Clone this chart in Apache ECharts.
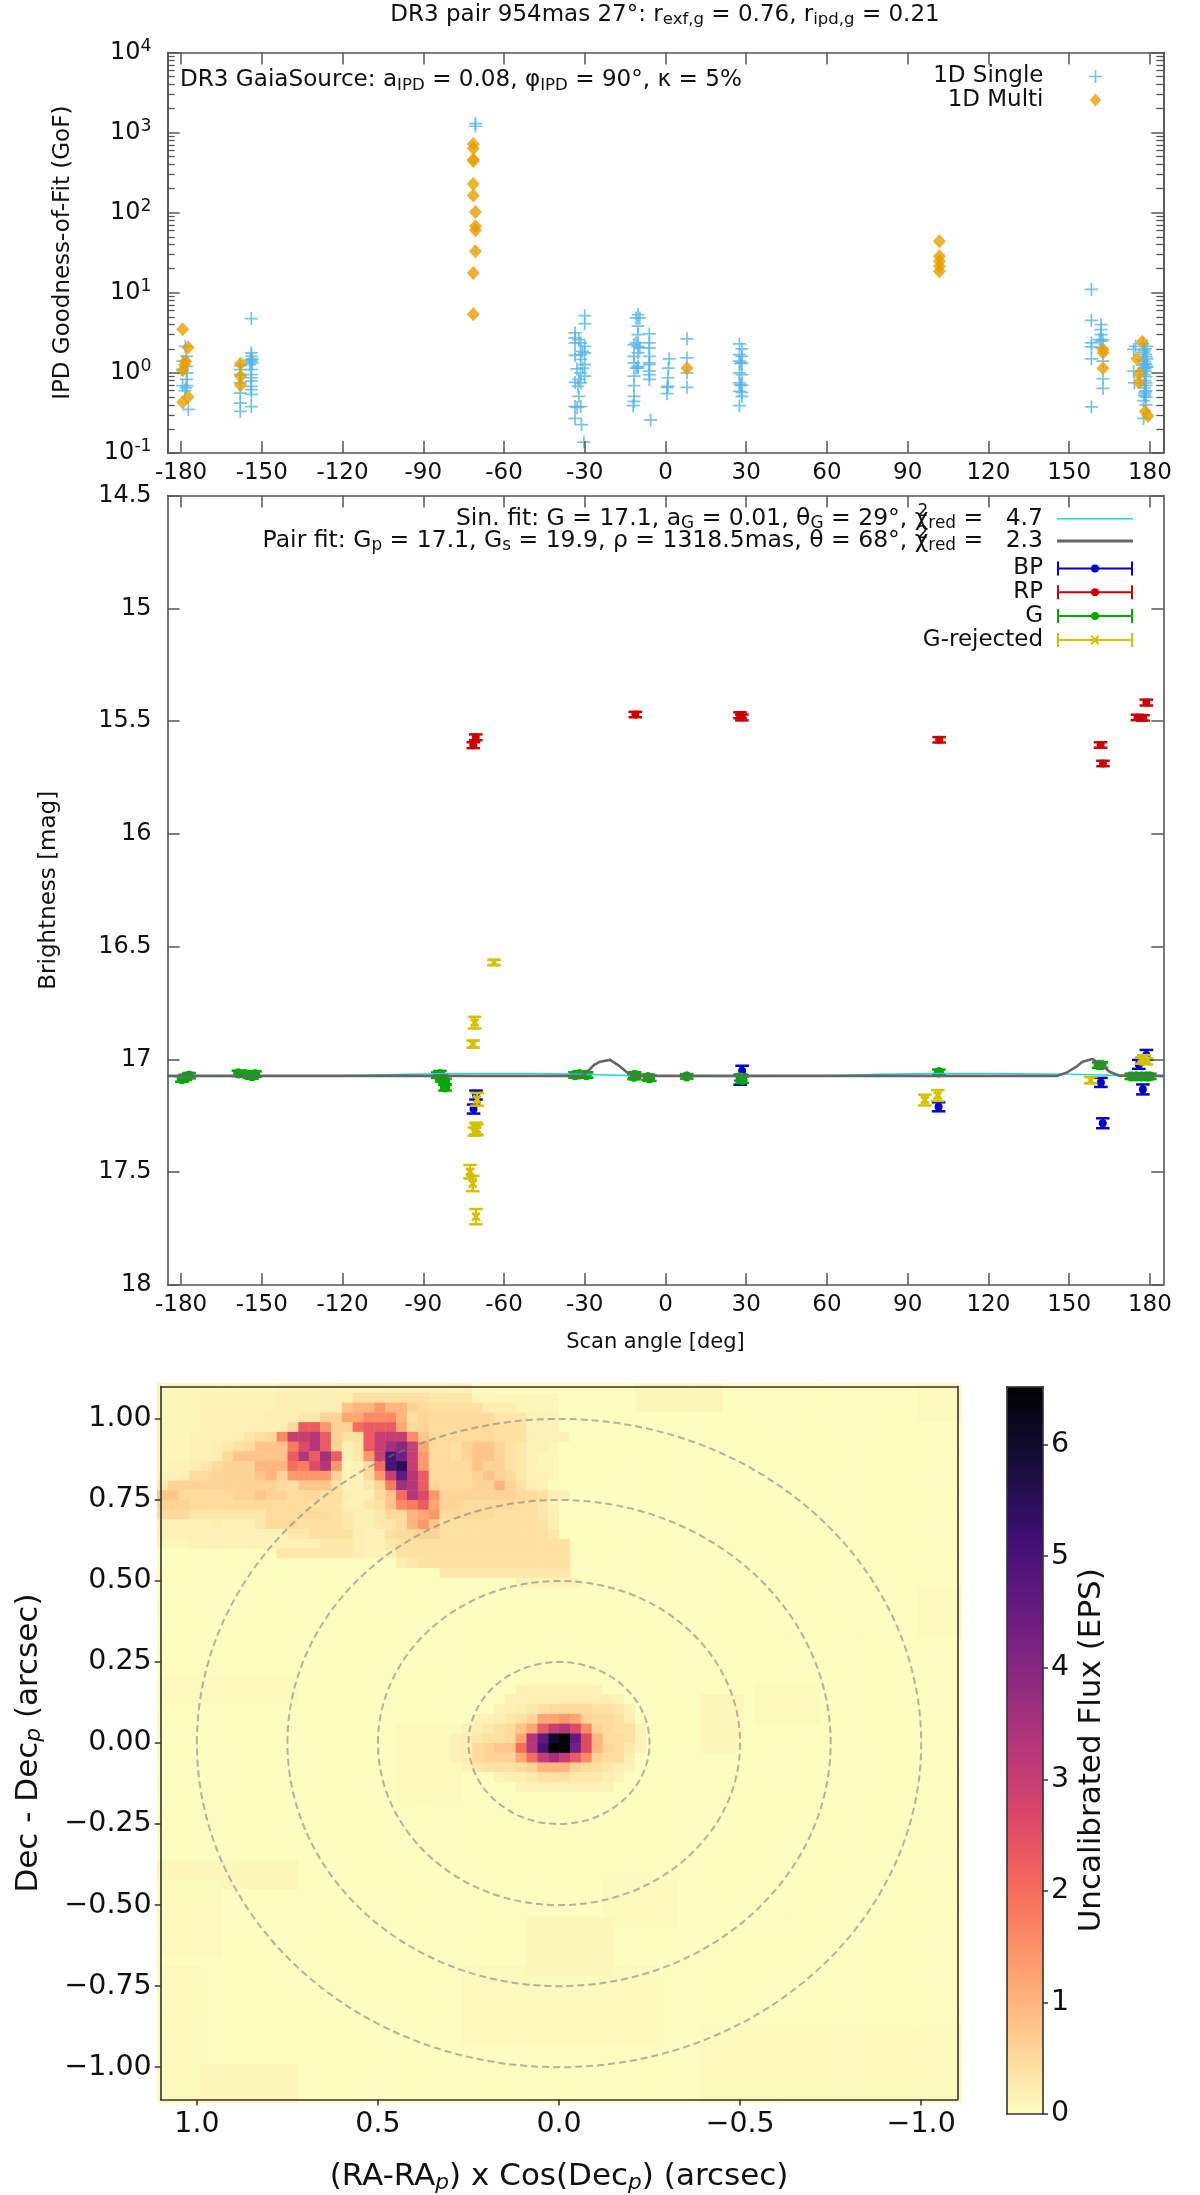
<!DOCTYPE html>
<html>
<head>
<meta charset="utf-8">
<title>DR3 pair</title>
<style>
  html, body { margin: 0; padding: 0; background: #fff; }
  #chart { width: 1200px; height: 2195px; }
</style>
<script src="https://cdn.jsdelivr.net/npm/echarts@6/dist/echarts.min.js"></script>
</head>
<body>
<div id="chart"></div>
<script>
// ---- top panel: IPD goodness of fit, [scan angle, GoF] ----
let singlePoints = [
  [-178.4, 2.15], [-178, 1.61], [-179.3, 1.4], [-179.5, 1.1], [-177.8, 1.0], [-177.8, 0.695], [-178.2, 0.65], [-179.4, 0.695],
  [-178.6, 0.6], [-177.3, 0.35], [-178, 1.21], [-178, 0.83],
  [-158, 1.23], [-158, 1.1], [-158, 0.95], [-158, 0.75], [-158, 0.56], [-158, 0.42], [-158, 0.33],
  [-153.9, 4.77], [-153.9, 1.78], [-153.9, 1.61], [-153.5, 1.5], [-154.2, 1.45], [-153.9, 1.4], [-153.5, 1.33], [-154.5, 1.27],
  [-153.9, 1.1], [-153.9, 0.95], [-153.9, 0.87], [-153.9, 0.79], [-153.9, 0.68], [-153.9, 0.62], [-153.9, 0.54], [-153.9, 0.38],
  [-70.6, 1297], [-70.6, 1200],
  [-30, 5.2], [-30, 4.13], [-33.6, 3.16], [-33.6, 2.73], [-32.2, 2.6], [-31.5, 2.37], [-33.6, 2.37], [-30, 2.15], [-30.8, 1.86],
  [-30, 1.78], [-31.5, 1.69], [-33.6, 1.65], [-31.5, 1.47], [-30, 1.27], [-32.9, 1.12], [-30.8, 1.15], [-31.5, 1.0], [-30, 0.91],
  [-32.2, 0.83], [-33.6, 0.76], [-31.5, 0.75], [-32.5, 0.68], [-32.2, 0.51], [-33.6, 0.38], [-31.5, 0.38], [-32.8, 0.37], [-33.6, 0.27],
  [-31.2, 0.226], [-30.3, 0.137],
  [-10.2, 5.35], [-10.9, 4.86], [-9.5, 4.86], [-10.2, 3.83], [-10.2, 3.01], [-10.9, 2.37], [-10.2, 2.15], [-11.7, 2.26], [-9.5, 2.05],
  [-11.7, 1.61], [-10.2, 1.78], [-11.7, 1.33], [-10.2, 1.21], [-10.9, 1.15], [-11.7, 0.91], [-10.2, 1.15], [-11.7, 0.695],
  [-11.7, 0.51], [-11.7, 0.44], [-12, 0.39],
  [-6, 3.07], [-6, 2.37], [-6, 2.05], [-6, 1.61], [-6, 1.33], [-6, 1.27], [-6, 1.05], [-6, 0.95], [-6, 0.83], [-5.5, 0.257],
  [1.4, 1.5], [1.1, 1.15], [0.9, 0.87], [0.9, 0.68], [0.6, 0.66], [0.6, 0.55],
  [8, 2.66], [8, 1.54], [8, 1.0], [8, 0.66],
  [27.5, 2.3], [28.4, 1.99], [27.5, 1.69], [28.4, 1.61], [27.5, 1.4], [28.4, 1.33], [27.9, 1.31], [27.5, 1.0], [28.4, 0.95],
  [27.5, 0.75], [28.4, 0.7], [27.8, 0.71], [27.5, 0.59], [28.4, 0.57], [28.4, 0.51], [27.5, 0.39],
  [158.3, 11], [158.3, 4.54], [158.3, 2.37], [158.3, 2.11], [158.3, 1.5], [158.3, 0.376],
  [161.9, 4.01], [161.9, 3.47], [161.9, 3.01], [161.2, 2.6], [162.6, 2.6], [161.9, 2.5], [161.9, 2.05], [162.6, 1.4], [162.6, 0.85], [162.6, 0.64],
  [174, 1.96], [174.7, 2.15], [174, 1.05], [174.3, 0.75], [177.4, 2.3], [178.3, 2.0], [177.7, 1.8], [178.6, 1.6], [177.4, 1.45],
  [178.1, 1.3], [178.6, 1.2], [177.7, 1.15], [178.3, 1.05], [178.6, 0.9], [178.1, 0.8], [178.6, 0.7], [177.9, 0.65], [178.6, 0.6],
  [178.1, 0.55], [178.6, 0.5], [177.7, 0.45], [178.6, 0.4], [177.7, 0.27],
  [178.9, 2.15], [177.9, 1.9], [178.4, 1.7], [179, 1.5], [178, 1.38], [178.6, 1.28], [177.4, 1.24], [178.2, 1.12], [179, 1.18], [177.9, 0.95], [178.6, 0.75], [178.3, 0.58], [178, 0.52]
];
let multiPoints = [
  [-179.4, 3.51], [-177.4, 2.07], [-178.3, 1.4], [-178.7, 1.26], [-179.4, 1.08], [-177.4, 0.5], [-179.4, 0.43],
  [-157.9, 1.3], [-157.9, 0.91], [-157.9, 0.7],
  [-71.4, 723], [-71.4, 632], [-71.4, 460], [-71.4, 443], [-71.4, 229], [-71.4, 164], [-70.6, 102], [-70.6, 67.8], [-70.6, 60.4],
  [-70.6, 33], [-71.4, 17.7], [-71.4, 5.4],
  [8, 1.14],
  [101.8, 44], [101.8, 28.6], [101.8, 24.8], [101.8, 21.5], [101.8, 18.6],
  [162.6, 1.96], [162.6, 1.78], [162.6, 1.14],
  [177.2, 2.44], [175.2, 1.5], [176, 0.98], [176, 0.76], [178.3, 0.33], [179.3, 0.29]
];
let angleTicks = [-180, -150, -120, -90, -60, -30, 0, 30, 60, 90, 120, 150, 180];
// minor ticks of the log axis, drawn on a helper axis counted in decades
let gofMinorTicks = [];
[-1, 0, 1, 2, 3].forEach(function (d) {
  [2, 3, 4, 5, 6, 7, 8, 9].forEach(function (m) { gofMinorTicks.push(d + Math.log10(m)); });
});

// ---- middle panel: [scan angle, magnitude, error] ----
let bpPoints = [
  [-70.4, 17.158, 0.02], [-71.3, 17.22, 0.02], [28.5, 17.05, 0.022], [27.8, 17.09, 0.022], [101.5, 17.21, 0.02],
  [161.8, 17.102, 0.02], [162.5, 17.283, 0.022], [178.7, 16.98, 0.022], [175.9, 17.022, 0.02], [177.4, 17.133, 0.022]
];
let rpPoints = [
  [-70.5, 15.572, 0.013], [-71.4, 15.607, 0.013], [-11.2, 15.471, 0.012], [27.7, 15.474, 0.013], [28.4, 15.484, 0.013],
  [101.7, 15.583, 0.012], [161.7, 15.606, 0.012], [162.6, 15.688, 0.012], [178.7, 15.418, 0.013], [175.4, 15.484, 0.012], [177.5, 15.486, 0.012]
];
let gPoints = [
  [-179.7, 17.087, 0.012], [-178.5, 17.08, 0.012], [-177, 17.072, 0.012],
  [-158.7, 17.062, 0.012], [-156.2, 17.065, 0.012], [-153.7, 17.074, 0.012], [-152.5, 17.065, 0.012],
  [-84.6, 17.07, 0.012], [-83.8, 17.065, 0.014], [-83.2, 17.084, 0.014], [-81.9, 17.099, 0.014], [-81.9, 17.124, 0.014],
  [-33.6, 17.069, 0.012], [-32, 17.066, 0.012], [-29.3, 17.069, 0.012],
  [-11.4, 17.069, 0.012], [-11.7, 17.076, 0.012], [-6.5, 17.079, 0.012], [-5.8, 17.083, 0.012],
  [7.9, 17.075, 0.01], [28, 17.08, 0.014], [28.5, 17.09, 0.014], [101.6, 17.057, 0.012],
  [161, 17.025, 0.012], [162, 17.025, 0.012],
  [173.1, 17.075, 0.012], [175, 17.075, 0.012], [176.9, 17.075, 0.012], [178.7, 17.075, 0.012], [180, 17.075, 0.012]
];
let rejectedPoints = [
  [-63.7, 16.57, 0.012], [-70.9, 16.837, 0.026], [-71.5, 16.932, 0.016], [-70, 17.177, 0.028],
  [-70.4, 17.306, 0.026], [-71, 17.32, 0.018], [-70.1, 17.312, 0.024], [-72.6, 17.498, 0.03], [-71.6, 17.55, 0.034], [-70.4, 17.697, 0.034],
  [96.4, 17.18, 0.024], [101.2, 17.16, 0.024], [158, 17.092, 0.014], [176.9, 17.005, 0.014], [178.7, 17.008, 0.014], [177.8, 16.995, 0.014]
];
let sinFit = [
  [-185, 17.076], [-150, 17.075], [-120, 17.072], [-100, 17.067], [-85, 17.063], [-70, 17.062], [-50, 17.062], [-30, 17.066], [-15, 17.071],
  [0, 17.075], [20, 17.076], [45, 17.075], [60, 17.072], [80, 17.066], [100, 17.062], [120, 17.062], [140, 17.064], [150, 17.065],
  [165, 17.07], [185, 17.076]
];
let pairFit = [
  [-185, 17.073], [-31, 17.073], [-29.3, 17.058], [-26.5, 17.024], [-24.3, 17.01], [-20.6, 17.002], [-17, 17.03], [-13.9, 17.061], [-12, 17.073],
  [145.3, 17.073], [149, 17.059], [152.7, 17.032], [155, 17.01], [158.7, 16.998], [162.5, 17.028], [165, 17.055], [168.8, 17.072], [185, 17.073]
];

// ---- bottom panel: flux map, cells are 0.03 arcsec, 74 x 74 ----
let fluxCellSize = 0.03;
let fluxSize = 74;
let fluxKey = '0123456789abcdefghijklmnopqr';
let fluxLevels = [0, 0.05, 0.1, 0.15, 0.2, 0.3, 0.4, 0.5, 0.6, 0.8, 1, 1.2, 1.4, 1.6, 1.8, 2, 2.3, 2.6, 3, 3.3, 3.6, 4, 4.3, 4.6, 5, 5.5, 6, 6.5];
// faint areas: [row from, row to, col from, col to, level char]
let fluxBlocks = [
  [0, 2, 44, 51, '2'], [0, 3, 70, 73, '1'], [21, 25, 70, 73, '1'], [30, 32, 0, 12, '1'], [35, 42, 22, 27, '1'], [32, 37, 50, 53, '2'],
  [31, 34, 55, 60, '1'], [49, 51, 0, 12, '2'], [51, 58, 0, 5, '1'], [51, 55, 41, 47, '1'], [60, 67, 28, 45, '1'], [55, 60, 34, 41, '2'],
  [70, 73, 4, 12, '2'], [66, 73, 50, 73, '1'], [60, 73, 0, 3, '1']
];
// brighter cells read one by one: [row, first col, level chars]
let fluxRuns = [
  [0, 0, '22222222222333333333333333333'],
  [1, 0, '2222333333344444446666666555522222222'],
  [2, 0, '2222' + '3333333' + '444444' + '9aacaa8' + '7' + '66666' + '444' + '2222'],
  [3, 0, '2222333333444558' + '8bbddda6' + '8777777555333'],
  [4, 0, '222233333444' + '7ggc88fgggb' + '7' + '8777777666333'],
  [5, 0, '222333' + '3456' + '7diijg866giiid9' + '7777776664333'],
  [6, 0, '222334' + '567' + '999ehjg845gikl' + 'ib' + '776' + '899865332'],
  [7, 0, '22233' + '47' + '9999' + '9gjgkg35ciomi' + 'c' + '776' + '899865322'],
  [8, 0, '2334' + '57' + '888aaa' + 'fehjc23' + '7fopic' + '77779886532' + '2'],
  [9, 0, '334' + '7788' + '889a8' + 'cccc833' + '7cinjg' + '7777' + '8987' + '5332'],
  [10, 0, '5' + '8888888' + '8887' + '6999' + '6335' + '8ekjg' + '8777' + '88a8' + '643'],
  [11, 0, '99' + '777778' + '89' + '88' + '77766' + '433' + '79fjhc' + '8888' + '88' + '87' + '764' + '3'],
  [12, 0, '888' + '7777777' + '7' + '777666' + '335' + '69degb' + '8877777' + '665' + '3'],
  [13, 0, '777' + '5555555' + '777777' + '6544' + '577abc' + '7777766665' + '4'],
  [14, 0, '3333343335' + '777' + '6666' + '544' + '557ac9' + '6666666666' + '4'],
  [15, 0, '333333333333' + '556666' + '433' + '67788' + '66666666665'],
  [16, 0, '22233333333333' + '35554' + '33' + '56666' + '666666666666'],
  [17, 11, '5555555433' + '46666666666666666'],
  [18, 22, '4566666666666666'],
  [19, 26, '555555555555'],
  [20, 33, '333333'],
  [31, 33, '33333333'],
  [32, 32, '33444444443'],
  [33, 31, '3345677776653'],
  [34, 29, '33456' + '8bbcb8' + '7764'],
  [35, 28, '345679' + 'bgijhd' + '87663'],
  [36, 27, '3' + '4566' + '7' + 'bjnqr' + 'nha7' + '7' + '63'],
  [37, 27, '34' + '7899' + 'fjo' + 'rrmh' + 'a87' + '53'],
  [38, 27, '34' + '7888' + 'bfikigd' + '877' + '4'],
  [39, 28, '356667' + '8aaa8' + '76543'],
  [40, 31, '34456665554' + '3'],
  [41, 33, '333333333']
];
let ringRadii = [0.25, 0.5, 0.75, 1.0];
let magmaReversed = ['#fcfdbf', '#fecf92', '#fe9f6d', '#f7705c', '#de4968', '#b73779', '#8c2981', '#641a80', '#3b0f70', '#140e36', '#000004'];

// turn the cell lists above into [x, y, flux]
let fluxRows = [];
for (let r = 0; r < fluxSize; r++) {
  fluxRows.push(new Array(fluxSize).fill(fluxLevels[0]));
}
fluxBlocks.forEach(function (b) {
  for (let r = b[0]; r <= b[1]; r++) {
    for (let c = b[2]; c <= b[3]; c++) {
      fluxRows[r][c] = fluxLevels[fluxKey.indexOf(b[4])];
    }
  }
});
fluxRuns.forEach(function (run) {
  for (let i = 0; i < run[2].length; i++) {
    fluxRows[run[0]][run[1] + i] = fluxLevels[fluxKey.indexOf(run[2][i])];
  }
});
let fluxCells = [];
fluxRows.forEach(function (row, r) {
  row.forEach(function (v, c) {
    fluxCells.push([(fluxSize / 2 - c - 0.5) * fluxCellSize, (fluxSize / 2 - r - 0.5) * fluxCellSize, v]);
  });
});

const FONT = 'DejaVu Sans';
const FRAME = '#555';
const SIZE = 23;
const BIG = 28.5;
const BIG_NAME = 31;
const plusIcon = 'path://M5.2 0H6.8V5.2H12V6.8H6.8V12H5.2V6.8H0V5.2H5.2Z';
const diamondIcon = 'path://M6 0L12 7L6 14L0 7Z';
const thinLine = 'path://M0 0H76V1.6H0Z';
const thickLine = 'path://M0 0H76V2.8H0Z';
const dotBar = 'path://M0 0H2V6H74V0H76V14H74V8H2V14H0ZM34 7A4 4 0 1 1 42 7A4 4 0 1 1 34 7Z';
const crossBar = 'path://M0 0H2V6H74V0H76V14H74V8H2V14H0ZM33.5 3.5L35 2L42.5 10.5L41 12ZM41 2L42.5 3.5L35 12L33.5 10.5Z';

function tokens(size) {
  return {
    sub: { fontFamily: FONT, fontSize: size * 0.72, padding: [size * 0.42, 0, 0, 0] },
    sup: { fontFamily: FONT, fontSize: size * 0.72, padding: [0, 0, size * 0.5, 0] },
    supz: { fontFamily: FONT, fontSize: size * 0.72, padding: [0, 0, size * 0.62, 0], width: 0 },
    gap: { fontFamily: FONT, fontSize: size, width: 9 },
    isub: { fontFamily: FONT, fontStyle: 'italic', fontSize: size * 0.7, padding: [size * 0.4, 0, 0, 0] }
  };
}

function frameAxis(gridIndex, position, min, max, extra) {
  return Object.assign({
    type: 'value',
    gridIndex: gridIndex,
    position: position,
    min: min,
    max: max,
    z: 10,
    silent: true,
    splitLine: { show: false },
    axisLine: { onZero: false, lineStyle: { color: FRAME, width: 1.6 } },
    axisTick: { show: false },
    axisLabel: { show: false }
  }, extra);
}

function imageLine() {
  return { onZero: false, lineStyle: { color: '#333', width: 1.6 } };
}

function angleAxis(gridIndex, position, labelled, extra) {
  return frameAxis(gridIndex, position, -185, 185, Object.assign({
    axisTick: { show: true, inside: true, length: 12, customValues: angleTicks, lineStyle: { color: FRAME, width: 1.5 } },
    axisLabel: labelled
      ? { show: true, customValues: angleTicks, fontFamily: FONT, fontSize: SIZE, color: '#111', margin: 9, showMinLabel: true, showMaxLabel: true }
      : { show: false }
  }, extra));
}

function gofAxis(position, labelled) {
  return {
    type: 'log',
    logBase: 10,
    gridIndex: 0,
    position: position,
    min: 0.1,
    max: 10000,
    z: 10,
    silent: true,
    splitLine: { show: false },
    minorTick: { show: false },
    axisLine: { onZero: false, lineStyle: { color: FRAME, width: 1.6 } },
    axisTick: { show: true, inside: true, length: 12, lineStyle: { color: FRAME, width: 1.5 } },
    axisLabel: labelled ? {
      show: true, fontFamily: FONT, fontSize: SIZE + 1, color: '#111', margin: 16,
      formatter: function (v) { return '10{sup|' + Math.round(Math.log10(v)) + '}'; },
      rich: { sup: tokens(SIZE + 1).sup }
    } : { show: false },
    name: labelled ? 'IPD Goodness-of-Fit (GoF)' : '',
    nameLocation: 'middle',
    nameGap: 93,
    nameRotate: 90,
    nameTextStyle: { fontFamily: FONT, fontSize: SIZE, color: '#111' }
  };
}

function gofMinorAxis(position) {
  return frameAxis(0, position, -1, 4, {
    axisTick: { show: true, inside: true, length: 7, customValues: gofMinorTicks, lineStyle: { color: FRAME, width: 1.3 } }
  });
}

function magAxis(position, labelled) {
  return frameAxis(1, position, 14.5, 18, {
    inverse: true,
    interval: 0.5,
    axisTick: { show: true, inside: true, length: 12, lineStyle: { color: FRAME, width: 1.5 } },
    axisLabel: labelled ? { show: true, fontFamily: FONT, fontSize: SIZE + 1, color: '#111', margin: 16 } : { show: false },
    name: labelled ? 'Brightness [mag]' : '',
    nameLocation: 'middle',
    nameGap: 107,
    nameRotate: 90,
    nameTextStyle: { fontFamily: FONT, fontSize: SIZE, color: '#111' }
  });
}

// error bar mark: stem, caps and the point itself
function errorBarItem(markType, radius) {
  return function (params, api) {
    let x = api.value(0), y = api.value(1), e = api.value(2);
    let c = api.coord([x, y]);
    let top = api.coord([x, y - e]);
    let bottom = api.coord([x, y + e]);
    let color = api.style().fill;
    let line = { stroke: color, lineWidth: 2.5, fill: null };
    let capW = 6.8;
    let children = [
      { type: 'line', shape: { x1: c[0], y1: top[1], x2: c[0], y2: bottom[1] }, style: line },
      { type: 'line', shape: { x1: c[0] - capW, y1: top[1], x2: c[0] + capW, y2: top[1] }, style: line },
      { type: 'line', shape: { x1: c[0] - capW, y1: bottom[1], x2: c[0] + capW, y2: bottom[1] }, style: line }
    ];
    if (markType === 'x') {
      let thick = { stroke: color, lineWidth: 2.8, fill: null };
      children.push({ type: 'line', shape: { x1: c[0] - 3.8, y1: c[1] - 3.8, x2: c[0] + 3.8, y2: c[1] + 3.8 }, style: thick });
      children.push({ type: 'line', shape: { x1: c[0] - 3.8, y1: c[1] + 3.8, x2: c[0] + 3.8, y2: c[1] - 3.8 }, style: thick });
    } else {
      children.push({ type: 'circle', shape: { cx: c[0], cy: c[1], r: radius }, style: { fill: color } });
    }
    return { type: 'group', children: children };
  };
}

function errorBarSeries(name, color, points, markType, radius) {
  return {
    name: name,
    type: 'custom',
    xAxisIndex: 2,
    yAxisIndex: 4,
    silent: true,
    itemStyle: { color: color },
    encode: { x: 0, y: 1 },
    renderItem: errorBarItem(markType, radius),
    data: points
  };
}

let option = {
  animation: false,
  backgroundColor: '#fff',
  textStyle: { fontFamily: FONT },
  title: [
    {
      text: 'DR3 pair 954mas 27°: r{sub|exf,g} = 0.76, r{sub|ipd,g} = 0.21',
      left: 665, top: 2, textAlign: 'center', padding: 0,
      textStyle: { fontFamily: FONT, fontSize: 23, fontWeight: 'normal', color: '#111', rich: tokens(23) }
    },
    {
      text: 'DR3 GaiaSource: a{sub|IPD} = 0.08, φ{sub|IPD} = 90°, κ = 5%',
      left: 180, top: 67, padding: 0,
      textStyle: { fontFamily: FONT, fontSize: 23.1, fontWeight: 'normal', color: '#111', rich: tokens(23.1) }
    }
  ],
  grid: [
    { left: 167.6, width: 995.7, top: 52.5, height: 400.5 },
    { left: 167.6, width: 995.7, top: 495.5, height: 789.5 },
    { left: 160.7, width: 796.7, top: 1386.5, height: 727.5 },
    { left: 1007, width: 36, top: 1386.5, height: 727.5 }
  ],
  xAxis: [
    angleAxis(0, 'bottom', true),
    angleAxis(0, 'top', false),
    angleAxis(1, 'bottom', true, {
      name: 'Scan angle [deg]', nameLocation: 'middle', nameGap: 47,
      nameTextStyle: { fontFamily: FONT, fontSize: 21, color: '#111', padding: [0, 20, 0, 0] }
    }),
    angleAxis(1, 'top', false),
    frameAxis(2, 'bottom', -1.1, 1.1, {
      inverse: true,
      axisLine: imageLine(),
      axisTick: { show: true, length: 6, customValues: [-1, -0.5, 0, 0.5, 1], lineStyle: { color: '#333', width: 1.5 } },
      axisLabel: {
        show: true, customValues: [-1, -0.5, 0, 0.5, 1], fontFamily: FONT, fontSize: BIG, color: '#111', margin: 10,
        formatter: function (v) { return v.toFixed(1).replace('-', '\u2212'); }
      },
      name: '(RA-RA{isub|p}) x Cos(Dec{isub|p}) (arcsec)',
      nameLocation: 'middle', nameGap: 60,
      nameTextStyle: { fontFamily: FONT, fontSize: BIG_NAME, color: '#111', rich: tokens(BIG_NAME) }
    }),
    frameAxis(2, 'top', -1.1, 1.1, { inverse: true, axisLine: imageLine() }),
    frameAxis(3, 'bottom', 0, 1, { axisLine: imageLine() }),
    frameAxis(3, 'top', 0, 1, { axisLine: imageLine() })
  ],
  yAxis: [
    gofAxis('left', true),
    gofAxis('right', false),
    gofMinorAxis('left'),
    gofMinorAxis('right'),
    magAxis('left', true),
    magAxis('right', false),
    frameAxis(2, 'left', -1.1, 1.1, {
      axisLine: imageLine(),
      axisTick: { show: true, length: 6, customValues: [-1, -0.75, -0.5, -0.25, 0, 0.25, 0.5, 0.75, 1], lineStyle: { color: '#333', width: 1.5 } },
      axisLabel: {
        show: true, customValues: [-1, -0.75, -0.5, -0.25, 0, 0.25, 0.5, 0.75, 1], fontFamily: FONT, fontSize: BIG, color: '#111', margin: 9,
        formatter: function (v) { return v.toFixed(2).replace('-', '\u2212'); }
      },
      name: 'Dec - Dec{isub|p} (arcsec)',
      nameLocation: 'middle', nameGap: 115, nameRotate: 90,
      nameTextStyle: { fontFamily: FONT, fontSize: BIG_NAME, color: '#111', rich: tokens(BIG_NAME) }
    }),
    frameAxis(2, 'right', -1.1, 1.1, { axisLine: imageLine() }),
    frameAxis(3, 'right', 0, 6.52, {
      axisLine: imageLine(),
      axisTick: { show: true, length: 5, customValues: [0, 1, 2, 3, 4, 5, 6], lineStyle: { color: '#333', width: 1.5 } },
      axisLabel: { show: true, customValues: [0, 1, 2, 3, 4, 5, 6], fontFamily: FONT, fontSize: BIG, color: '#111', margin: 8 },
      name: 'Uncalibrated Flux (EPS)',
      nameLocation: 'middle', nameGap: 33, nameRotate: 90,
      nameTextStyle: { fontFamily: FONT, fontSize: BIG_NAME, color: '#111' }
    }),
    frameAxis(3, 'left', 0, 6.52, { axisLine: imageLine() })
  ],
  legend: [
    {
      data: [
        { name: '1D Single', icon: plusIcon, itemStyle: { color: '#56b4e9' } },
        { name: '1D Multi', icon: diamondIcon, itemStyle: { color: '#e69f00' } }
      ],
      orient: 'vertical', align: 'right', right: 98, top: 65, padding: 0,
      itemWidth: 76, itemHeight: 13, itemGap: 0.4, selectedMode: false,
      formatter: function (n) { return n + '{gap| }'; },
      textStyle: { fontFamily: FONT, fontSize: SIZE, color: '#111', rich: tokens(SIZE) }
    },
    {
      data: [
        { name: 'Sin. fit', icon: thinLine, itemStyle: { color: '#18d8d8' } },
        { name: 'Pair fit', icon: thickLine, itemStyle: { color: '#666' } }
      ],
      orient: 'vertical', align: 'right', right: 67, top: 503, padding: 0,
      itemWidth: 76, itemHeight: 14, itemGap: -7, selectedMode: false,
      formatter: function (n) {
        if (n === 'Sin. fit') {
          return 'Sin. fit: G = 17.1, a{sub|G} = 0.01, θ{sub|G} = 29°, χ{supz|2}{sub|red} =   4.7{gap| }';
        }
        return 'Pair fit: G{sub|p} = 17.1, G{sub|s} = 19.9, ρ = 1318.5mas, θ = 68°, χ{supz|2}{sub|red} =   2.3{gap| }';
      },
      textStyle: { fontFamily: FONT, fontSize: 23.5, color: '#111', rich: tokens(23.5) }
    },
    {
      data: [
        { name: 'BP', icon: dotBar, itemStyle: { color: '#0000c8' } },
        { name: 'RP', icon: dotBar, itemStyle: { color: '#c80000' } },
        { name: 'G', icon: dotBar, itemStyle: { color: '#00a800' } },
        { name: 'G-rejected', icon: crossBar, itemStyle: { color: '#d4c000' } }
      ],
      orient: 'vertical', align: 'right', right: 67, top: 557, padding: 0,
      itemWidth: 76, itemHeight: 14, itemGap: 0.8, selectedMode: false,
      formatter: function (n) { return n + '{gap| }'; },
      textStyle: { fontFamily: FONT, fontSize: SIZE, color: '#111', rich: tokens(SIZE) }
    }
  ],
  visualMap: {
    type: 'continuous',
    seriesIndex: 8,
    dimension: 2,
    min: 0,
    max: 6.52,
    left: 1007,
    top: 1386.5,
    itemWidth: 36,
    itemHeight: 727.5,
    padding: 0,
    text: null,
    showLabel: false,
    calculable: false,
    hoverLink: false,
    inRange: { color: magmaReversed }
  },
  series: [
    {
      name: '1D Single', type: 'scatter', xAxisIndex: 0, yAxisIndex: 0, silent: true,
      symbol: plusIcon, symbolSize: 13, symbolKeepAspect: true,
      itemStyle: { color: '#56b4e9' }, data: singlePoints
    },
    {
      name: '1D Multi', type: 'scatter', xAxisIndex: 0, yAxisIndex: 0, silent: true,
      symbol: 'diamond', symbolSize: [13, 14],
      itemStyle: { color: '#e69f00' }, data: multiPoints
    },
    {
      name: 'Sin. fit', type: 'line', xAxisIndex: 2, yAxisIndex: 4, symbol: 'none', silent: true,
      lineStyle: { color: '#18d8d8', width: 1.4 }, itemStyle: { color: '#18d8d8' }, data: sinFit
    },
    {
      name: 'Pair fit', type: 'line', xAxisIndex: 2, yAxisIndex: 4, symbol: 'none', silent: true,
      lineStyle: { color: '#666', width: 2.6 }, itemStyle: { color: '#666' }, data: pairFit
    },
    errorBarSeries('BP', '#0000c8', bpPoints, 'dot', 4),
    errorBarSeries('RP', '#c80000', rpPoints, 'dot', 4),
    errorBarSeries('G', '#00a800', gPoints, 'dot', 5.2),
    errorBarSeries('G-rejected', '#d4c000', rejectedPoints, 'x', 0),
    {
      name: 'flux', type: 'custom', xAxisIndex: 4, yAxisIndex: 6, silent: true, clip: true,
      encode: { x: 0, y: 1 },
      renderItem: function (params, api) {
        let c = api.coord([api.value(0), api.value(1)]);
        let s = api.size([fluxCellSize, fluxCellSize]);
        return {
          type: 'rect',
          shape: { x: c[0] - s[0] / 2, y: c[1] - s[1] / 2, width: s[0] + 0.4, height: s[1] + 0.4 },
          style: { fill: api.visual('color') }
        };
      },
      data: fluxCells
    },
    {
      name: 'rings', type: 'custom', xAxisIndex: 4, yAxisIndex: 6, silent: true, z: 3,
      encode: { x: -1, y: -1 },
      renderItem: function (params, api) {
        let c = api.coord([0, 0]);
        let s = api.size([api.value(0), api.value(0)]);
        return {
          type: 'ellipse',
          shape: { cx: c[0], cy: c[1], rx: s[0], ry: s[1] },
          style: { fill: null, stroke: 'rgba(120,120,120,0.55)', lineWidth: 2, lineDash: [7, 4] }
        };
      },
      data: ringRadii.map(function (r) { return [r]; })
    }
  ]
};

let myChart = echarts.init(document.getElementById('chart'), null, { renderer: 'canvas' });
myChart.setOption(option);
</script>
</body>
</html>
